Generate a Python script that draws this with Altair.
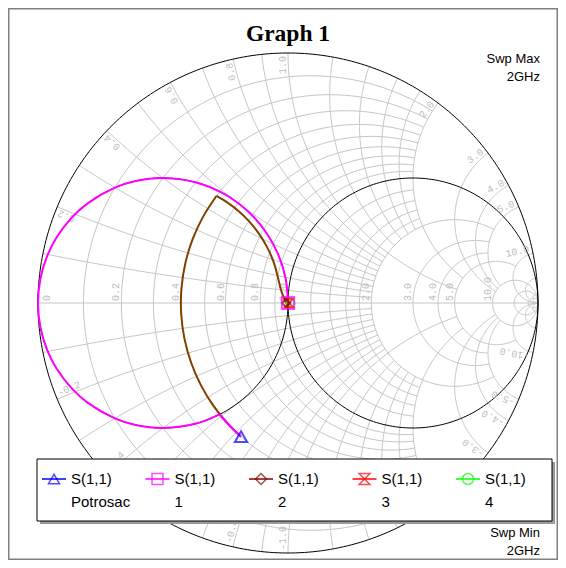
import numpy as np
import pandas as pd
import altair as alt

# ---------------- chart values ----------------
title_text = "Graph 1"
sweep_max = ["Swp Max", "2GHz"]
sweep_min = ["Swp Min", "2GHz"]
legend_main = ["S(1,1)", "S(1,1)", "S(1,1)", "S(1,1)", "S(1,1)"]
legend_sub = ["Potrosac", "1", "2", "3", "4"]
marker_colors = ["#0000ff", "#ff00ff", "#800000", "#ff0000", "#00ff00"]
trace_colors = ["#0000ff", "#ff00ff", "#804000", "#ff0000", "#00ff00"]
marker_shapes = ["triangle-up", "square", "diamond", "M-1,-1L1,-1L-1,1L1,1Z", "circle"]

# normalised impedance (r + jx)
load_r = [0.40]
load_x = [-0.63]
t1a_r = [0.40, 0.40, 0.40, 0.398]
t1a_x = [-0.63, -0.58, -0.53, -0.489]
t1b_r = [0.398, 0.308, 0.2, 0.138, 0.1, 0.0588, 0.0385, 0.02, 0.0099, 0.0025, 0.0,
         0.0025, 0.0099, 0.02, 0.0385, 0.0588, 0.1, 0.138, 0.2, 0.308, 0.41, 0.5,
         0.61, 0.735, 0.862, 0.962, 1.0]
t1b_x = [-0.489, -0.462, -0.4, -0.345, -0.3, -0.235, -0.192, -0.14, -0.099, -0.0499, 0.0,
         0.0499, 0.099, 0.14, 0.192, 0.235, 0.3, 0.345, 0.4, 0.462, 0.492, 0.5,
         0.488, 0.441, 0.345, 0.192, 0.0]
t2a_r = [0.40, 0.40, 0.40, 0.40, 0.40, 0.40, 0.40, 0.40, 0.40, 0.40, 0.40, 0.40]
t2a_x = [-0.63, -0.54, -0.44, -0.34, -0.24, -0.14, -0.04, 0.06, 0.16, 0.26, 0.36, 0.467]
t2b_r = [0.40, 0.4542, 0.5232, 0.6010, 0.6856, 0.7717, 0.8507, 0.9110, 0.9450, 0.985]
t2b_x = [0.467, 0.4714, 0.4689, 0.4536, 0.4204, 0.3640, 0.2809, 0.1719, 0.0882, 0.0]
# marker positions (one per trace)
mark_r = [0.40, 1.0, 0.985, 1.008, 1.02]
mark_x = [-0.63, 0.0, 0.0, 0.0, 0.0]

# Smith grid values
r_minor = [0.1, 0.2, 0.3, 0.4, 0.5, 0.6, 0.7, 0.8, 0.9]
r_mid = [1.2, 1.4, 1.6, 1.8]
r_big = [2.0, 3.0, 4.0, 5.0]
r_full = [10.0, 20.0, 50.0]
x_minor = [0.1, 0.2, 0.3, 0.4, 0.5, 0.6, 0.7, 0.8, 0.9]
x_mid = [1.2, 1.4, 1.6, 1.8]
x_big = [1.0, 2.0, 3.0, 4.0, 5.0]
x_full = [10.0, 20.0, 50.0]
r_labels = [0.0, 0.2, 0.4, 0.6, 0.8, 1.0, 2.0, 3.0, 4.0, 5.0, 10.0]
x_labels = [0.2, 0.4, 0.6, 0.8, 1.0, 2.0, 3.0, 4.0, 5.0, 10.0]

# ---------------- geometry helpers ----------------
W, H = 550, 552
PX = 250.0
CXP, CYP = 280.0, 295.0
xs = alt.Scale(domain=[-CXP / PX, (W - CXP) / PX], nice=False, zero=False)
ys = alt.Scale(domain=[-(H - CYP) / PX, CYP / PX], nice=False, zero=False)


def gam(r, x):
    z = np.asarray(r, dtype=float) + 1j * np.asarray(x, dtype=float)
    g = (z - 1) / (z + 1)
    return g.real, g.imag


def r_seg(r, x0, x1, n=90):
    s = np.linspace(np.arctan(x0 / (1 + r)), np.arctan(x1 / (1 + r)), n)
    return gam(np.full(n, r), (1 + r) * np.tan(s))


def x_seg(xv, r0, r1, n=90):
    s = np.linspace(np.arctan(xv / (1 + r0)), np.arctan(xv / (1 + r1)), n)
    return gam(xv / np.tan(s) - 1, np.full(n, xv))


grid_rows = []
sid = [0]


def add(gx, gy, rows):
    for k, (a, b) in enumerate(zip(gx, gy)):
        rows.append({"gx": a, "gy": b, "seg": sid[0], "i": k})
    sid[0] += 1


BIG = 1e9
for r in r_minor + r_mid:
    add(*r_seg(r, -2, 2), grid_rows)
for r in r_big:
    lim = 5 if r < 5 else 10
    add(*r_seg(r, -lim, lim), grid_rows)
for r in r_full:
    add(*r_seg(r, -np.inf, np.inf), grid_rows)
for xv in x_minor + x_mid:
    for sgn in (1, -1):
        add(*x_seg(sgn * xv, 0, 2), grid_rows)
for xv in x_big:
    lim = 5 if xv < 3 else 10
    for sgn in (1, -1):
        add(*x_seg(sgn * xv, 0, lim), grid_rows)
for xv in x_full:
    for sgn in (1, -1):
        add(*x_seg(sgn * xv, 0, BIG), grid_rows)
add(np.array([-1.0, 1.0]), np.array([0.0, 0.0]), grid_rows)
grid_df = pd.DataFrame(grid_rows)

black_rows = []
gx0, gy0 = r_seg(0.0, -np.inf, np.inf, 360)
add(gx0, gy0, black_rows)
gx1, gy1 = r_seg(1.0, -np.inf, np.inf, 240)
add(gx1, gy1, black_rows)
add(-gx1, -gy1, black_rows)  # g = 1 circle
black_df = pd.DataFrame(black_rows)

# grid labels
lab_rows = []
for r in r_labels:
    gx, gy = gam(r, 0.0)
    lab_rows.append({"gx": float(gx), "gy": float(gy), "t": ("0" if r == 0 else f"{r:.1f}"),
                     "ang": 270.0, "edge": r == 0})
rl_df = pd.DataFrame(lab_rows)
xl_rows = []
for xv in x_labels:
    for sgn in (1, -1):
        gx, gy = gam(0.0, sgn * xv)
        th = np.degrees(np.arctan2(gy, gx))
        rr = 1 - 3.0 / PX
        if sgn > 0:   # upper half: reads outward, ends at the rim
            ang = (-th) % 360.0
            al = "right"
        else:         # lower half: reads inward, starts at the rim
            ang = (180.0 - th) % 360.0
            al = "left"
        xl_rows.append({"gx": float(gx) * rr, "gy": float(gy) * rr,
                        "t": f"{sgn * xv:.1f}", "ang": float(ang), "al": al})
xl_df = pd.DataFrame(xl_rows)


# traces: one table per drawn piece
def trace_df(rr_, xx_):
    gx, gy = gam(rr_, xx_)
    return pd.DataFrame({"gx": gx, "gy": gy, "i": np.arange(len(gx))})


pieces = [(trace_df(t2a_r, t2a_x), trace_colors[2], 2.0),
          (trace_df(t2b_r, t2b_x), trace_colors[2], 2.0),
          (trace_df(t1b_r, t1b_x), trace_colors[1], 2.0),
          (trace_df(t1a_r, t1a_x), trace_colors[1], 2.2)]

mgx, mgy = gam(mark_r, mark_x)
mk_df = pd.DataFrame({"gx": mgx, "gy": mgy, "k": list(range(5))})

X = lambda: alt.X("gx:Q", scale=xs, axis=None)
Y = lambda: alt.Y("gy:Q", scale=ys, axis=None)

grid = alt.Chart(grid_df).mark_line(color="#c6c6c6", strokeWidth=1, clip=True).encode(
    x=X(), y=Y(), detail="seg:N", order="i:Q")
black = alt.Chart(black_df).mark_line(color="#000000", strokeWidth=1).encode(
    x=X(), y=Y(), detail="seg:N", order="i:Q")
rlab = alt.Chart(rl_df[~rl_df.edge]).mark_text(font="Liberation Mono", fontSize=10, color="#bdbdbd",
                                               align="left", baseline="bottom", dx=2).encode(
    x=X(), y=Y(), text="t:N", angle=alt.Angle("ang:Q", scale=None))
rlab0 = alt.Chart(rl_df[rl_df.edge]).mark_text(font="Liberation Mono", fontSize=10, color="#bdbdbd",
                                               align="left", baseline="top", dx=2, dy=4).encode(
    x=X(), y=Y(), text="t:N", angle=alt.Angle("ang:Q", scale=None))
xlab_layers = []
for al in ("left", "right"):
    xlab_layers.append(alt.Chart(xl_df[xl_df.al == al]).mark_text(
        font="Liberation Mono", fontSize=10, color="#bdbdbd", align=al, baseline="bottom").encode(
        x=X(), y=Y(), text="t:N", angle=alt.Angle("ang:Q", scale=None)))

trace_layers = []
for dfp, col, wdt in pieces:
    trace_layers.append(
        alt.Chart(dfp).mark_line(color=col, strokeWidth=wdt, interpolate="catmull-rom").encode(
            x=X(), y=Y(), order="i:Q"))

mk_layers = []
for k in [4, 3, 0, 2, 1]:
    mk_layers.append(alt.Chart(mk_df[mk_df.k == k]).mark_point(
        shape=marker_shapes[k], color=marker_colors[k], filled=False,
        size=150 if k in (0, 1) else 70, strokeWidth=2).encode(x=X(), y=Y()))

one = pd.DataFrame({"a": [0]})
# legend box with shadow
leg_shadow = alt.Chart(one).mark_rect(color="#9a9a9a").encode(
    x=alt.value(37 - 8 + 3), x2=alt.value(552 - 8 + 3), y=alt.value(459 - 8 + 3), y2=alt.value(521 - 8 + 3))
leg_box = alt.Chart(one).mark_rect(fill="#ffffff", stroke="#000000", strokeWidth=1).encode(
    x=alt.value(37 - 8), x2=alt.value(552 - 8), y=alt.value(459 - 8), y2=alt.value(521 - 8))
leg_layers = []
for i in range(5):
    x0 = 42 - 8 + i * 103.5
    leg_layers.append(alt.Chart(one).mark_rule(color=marker_colors[i], strokeWidth=1.5).encode(
        x=alt.value(x0), x2=alt.value(x0 + 24), y=alt.value(479 - 8)))
    leg_layers.append(alt.Chart(one).mark_point(shape=marker_shapes[i], color=marker_colors[i],
                                                filled=False, size=120, strokeWidth=1.5).encode(
        x=alt.value(x0 + 12), y=alt.value(479 - 8)))
    leg_layers.append(alt.Chart(one).mark_text(text=legend_main[i], font="Liberation Sans",
                                               fontSize=15, align="left", baseline="middle",
                                               color="#000000").encode(
        x=alt.value(x0 + 29), y=alt.value(479 - 8)))
    leg_layers.append(alt.Chart(one).mark_text(text=legend_sub[i], font="Liberation Sans",
                                               fontSize=15, align="left", baseline="middle",
                                               color="#000000").encode(
        x=alt.value(x0 + 29), y=alt.value(502 - 8)))

txt = []
txt.append(alt.Chart(one).mark_text(text=title_text, font="Liberation Serif", fontWeight="bold",
                                    fontSize=23.5, align="center", baseline="alphabetic").encode(
    x=alt.value(288 - 8), y=alt.value(41 - 8)))
for j, s in enumerate(sweep_max):
    txt.append(alt.Chart(one).mark_text(text=s, font="Liberation Sans", fontSize=13,
                                        align="right", baseline="middle").encode(
        x=alt.value(540 - 8), y=alt.value(59 - 8 + 18 * j)))
for j, s in enumerate(sweep_min):
    txt.append(alt.Chart(one).mark_text(text=s, font="Liberation Sans", fontSize=13,
                                        align="right", baseline="middle").encode(
        x=alt.value(540 - 8), y=alt.value(533 - 8 + 18 * j)))
frame = alt.Chart(one).mark_rect(fill=None, stroke="#808080", strokeWidth=1.5).encode(
    x=alt.value(0.75), x2=alt.value(W - 0.75), y=alt.value(0.75), y2=alt.value(H - 0.75))

chart = alt.layer(grid, black, rlab, rlab0, *xlab_layers, *trace_layers, *mk_layers, leg_shadow,
                  leg_box, *leg_layers, *txt, frame).properties(
    width=W, height=H, autosize=alt.AutoSizeParams(type="none"), padding=0,
    background="#ffffff").configure_view(stroke=None)

chart.save("out.html", embed_options={"renderer": "svg", "actions": False})
